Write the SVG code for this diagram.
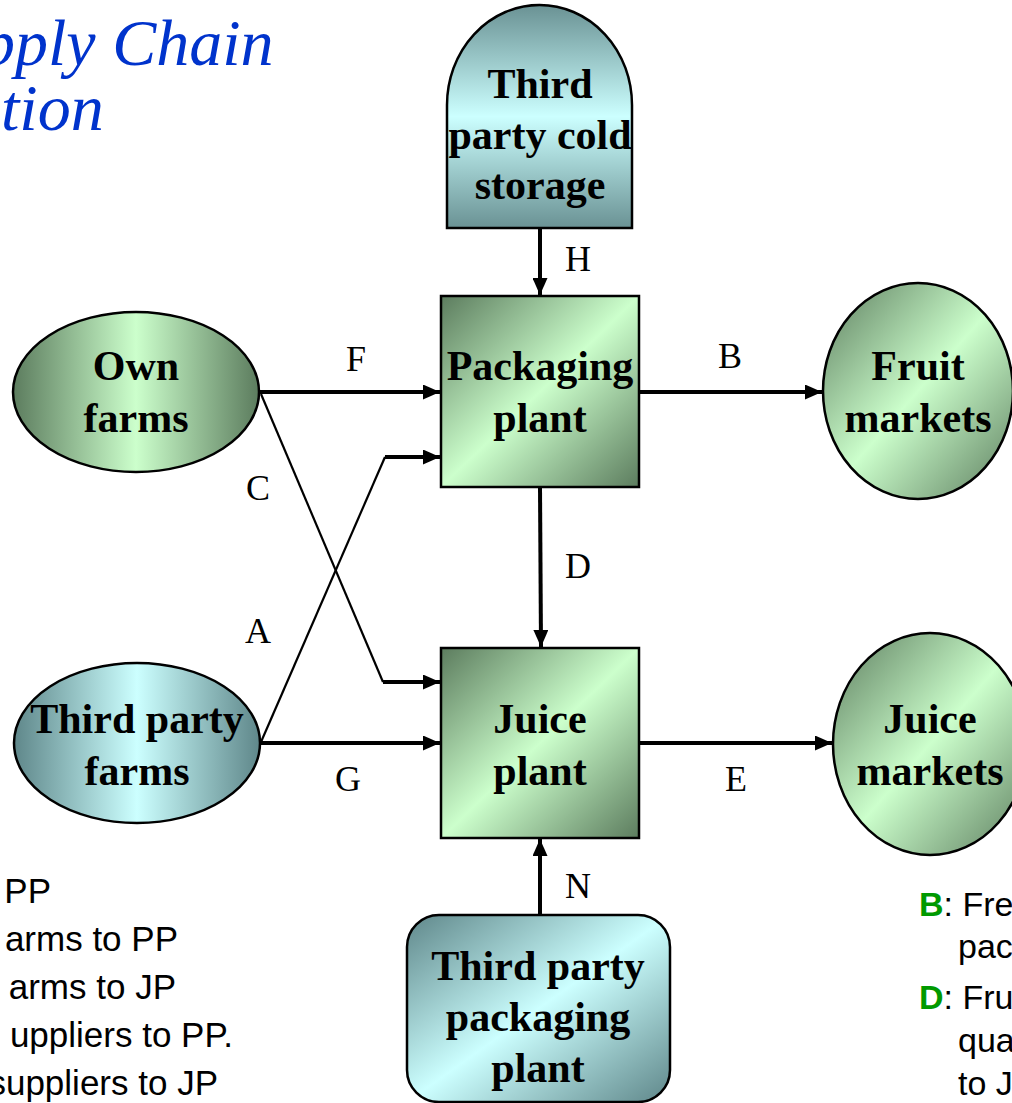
<svg xmlns="http://www.w3.org/2000/svg" width="1012" height="1103" viewBox="0 0 1012 1103">
<style>
.node{font-family:"Liberation Serif","Times New Roman",serif;font-weight:bold;font-size:42px;fill:#000;text-anchor:middle}
.lbl{font-family:"Liberation Serif","Times New Roman",serif;font-size:36px;fill:#000;text-anchor:middle}
.title{font-family:"Liberation Serif","Times New Roman",serif;font-style:italic;font-size:66px;fill:#0033cc}
.leg{font-family:"Liberation Sans",Arial,sans-serif;font-size:35px;fill:#000}
.legr{font-family:"Liberation Sans",Arial,sans-serif;font-size:34px;fill:#000}
.key{fill:#009900;font-weight:bold}
.shape{stroke:#000;stroke-width:2.5}
.thick{stroke:#000;stroke-width:4;fill:none}
.thin{stroke:#000;stroke-width:2.2;fill:none}
</style>
<defs>
<marker id="arr" markerUnits="userSpaceOnUse" markerWidth="17" markerHeight="15" refX="17" refY="7.5" orient="auto">
<path d="M0,0 L17,7.5 L0,15 z" fill="#000"/>
</marker>
<linearGradient id="gH" x1="0" y1="0" x2="1" y2="0">
<stop offset="0" stop-color="#5c7c5e"/><stop offset="0.5" stop-color="#ccffcc"/><stop offset="1" stop-color="#5c7c5e"/>
</linearGradient>
<linearGradient id="gD" x1="0" y1="0" x2="1" y2="1">
<stop offset="0" stop-color="#5c7c5e"/><stop offset="0.5" stop-color="#ccffcc"/><stop offset="1" stop-color="#5c7c5e"/>
</linearGradient>
<linearGradient id="cH" x1="0" y1="0" x2="1" y2="0">
<stop offset="0" stop-color="#5f878a"/><stop offset="0.5" stop-color="#ccffff"/><stop offset="1" stop-color="#5f878a"/>
</linearGradient>
<linearGradient id="cV" x1="0" y1="0" x2="0" y2="1">
<stop offset="0" stop-color="#6a9294"/><stop offset="0.5" stop-color="#ccffff"/><stop offset="1" stop-color="#6a9294"/>
</linearGradient>
<linearGradient id="cD" x1="0" y1="0" x2="1" y2="1">
<stop offset="0" stop-color="#5f878a"/><stop offset="0.5" stop-color="#ccffff"/><stop offset="1" stop-color="#5f878a"/>
</linearGradient>
</defs>
<rect width="1012" height="1103" fill="#fff"/>

<g id="title">
<text class="title" x="-18" y="65">pply Chain</text>
<text class="title" x="1" y="130">tion</text>
</g>

<g id="connectors">
<line class="thick" x1="540" y1="228" x2="540" y2="295" marker-end="url(#arr)"/>
<line class="thick" x1="259" y1="392" x2="440" y2="392" marker-end="url(#arr)"/>
<line class="thick" x1="639" y1="392" x2="822" y2="392" marker-end="url(#arr)"/>
<polyline class="thin" points="261,394 383,682"/>
<line class="thick" x1="383" y1="682" x2="440" y2="682" marker-end="url(#arr)"/>
<polyline class="thin" points="261,742 385,457"/>
<line class="thick" x1="385" y1="457" x2="440" y2="457" marker-end="url(#arr)"/>
<line class="thick" x1="259" y1="743" x2="440" y2="743" marker-end="url(#arr)"/>
<line class="thick" x1="540" y1="487" x2="541" y2="647" marker-end="url(#arr)"/>
<line class="thick" x1="639" y1="743" x2="832" y2="743" marker-end="url(#arr)"/>
<line class="thick" x1="540" y1="915" x2="540" y2="839" marker-end="url(#arr)"/>
<text class="lbl" x="578" y="271">H</text>
<text class="lbl" x="356" y="371">F</text>
<text class="lbl" x="730" y="368">B</text>
<text class="lbl" x="258" y="500">C</text>
<text class="lbl" x="258" y="643">A</text>
<text class="lbl" x="348" y="791">G</text>
<text class="lbl" x="578" y="578">D</text>
<text class="lbl" x="736" y="791">E</text>
<text class="lbl" x="578" y="898">N</text>
</g>

<g id="cold-storage">
<path class="shape" fill="url(#cV)" d="M447,228 L447,105 A92.5,100 0 0 1 632,105 L632,228 Z"/>
<text class="node" x="540" y="98">Third</text>
<text class="node" x="540" y="149">party cold</text>
<text class="node" x="540" y="199">storage</text>
</g>

<g id="packaging-plant">
<rect class="shape" fill="url(#gD)" x="441" y="296" width="198" height="191"/>
<text class="node" x="540" y="380">Packaging</text>
<text class="node" x="540" y="432">plant</text>
</g>

<g id="juice-plant">
<rect class="shape" fill="url(#gD)" x="441" y="648" width="198" height="190"/>
<text class="node" x="540" y="733">Juice</text>
<text class="node" x="540" y="785">plant</text>
</g>

<g id="own-farms">
<ellipse class="shape" fill="url(#gH)" cx="136" cy="392" rx="123" ry="80"/>
<text class="node" x="136" y="380">Own</text>
<text class="node" x="136" y="432">farms</text>
</g>

<g id="third-party-farms">
<ellipse class="shape" fill="url(#cH)" cx="137" cy="743" rx="123" ry="80"/>
<text class="node" x="137" y="733">Third party</text>
<text class="node" x="137" y="785">farms</text>
</g>

<g id="fruit-markets">
<ellipse class="shape" fill="url(#gD)" cx="918" cy="391" rx="95" ry="108"/>
<text class="node" x="918" y="380">Fruit</text>
<text class="node" x="918" y="432">markets</text>
</g>

<g id="juice-markets">
<ellipse class="shape" fill="url(#gD)" cx="930" cy="744" rx="97" ry="111"/>
<text class="node" x="930" y="733">Juice</text>
<text class="node" x="930" y="785">markets</text>
</g>

<g id="third-party-packaging">
<rect class="shape" fill="url(#cD)" x="407" y="915" width="263" height="187" rx="32" ry="32"/>
<text class="node" x="538" y="980">Third party</text>
<text class="node" x="538" y="1031">packaging</text>
<text class="node" x="538" y="1082">plant</text>
</g>

<g id="legend-left">
<text class="leg" x="51" y="903" text-anchor="end">PP</text>
<text class="leg" x="178" y="951" text-anchor="end">arms to PP</text>
<text class="leg" x="176" y="999" text-anchor="end">arms to JP</text>
<text class="leg" x="233" y="1047" text-anchor="end">uppliers to PP.</text>
<text class="leg" x="218" y="1095" text-anchor="end">suppliers to JP</text>
</g>

<g id="legend-right">
<text class="legr" x="919" y="916"><tspan class="key">B</tspan>: Fre</text>
<text class="legr" x="958" y="958">pac</text>
<text class="legr" x="919" y="1009"><tspan class="key">D</tspan>: Fru</text>
<text class="legr" x="958" y="1052">qua</text>
<text class="legr" x="958" y="1095">to J</text>
</g>
</svg>
